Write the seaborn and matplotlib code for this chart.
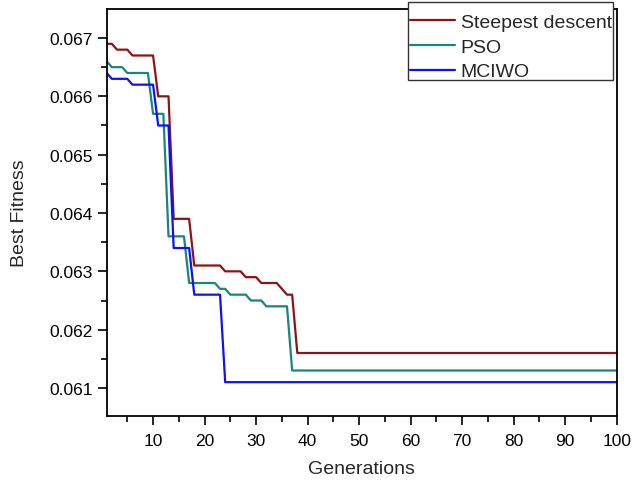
import numpy as np
import pandas as pd
import matplotlib
matplotlib.use("Agg")
import matplotlib.pyplot as plt
from matplotlib.patches import Rectangle
from matplotlib.ticker import FixedLocator, FormatStrFormatter
import seaborn as sns

# ---- data (breakpoints) ----
sd_gen = [1, 2, 3, 5, 6, 10, 11, 13, 14, 17, 18, 23, 24, 27, 28, 30, 31, 34, 35, 36, 37, 38, 100]
sd_val = [0.0669, 0.0669, 0.0668, 0.0668, 0.0667, 0.0667, 0.0660, 0.0660, 0.0639, 0.0639,
          0.0631, 0.0631, 0.0630, 0.0630, 0.0629, 0.0629, 0.0628, 0.0628, 0.0627, 0.0626,
          0.0626, 0.0616, 0.0616]

pso_gen = [1, 2, 4, 5, 9, 10, 12, 13, 16, 17, 22, 23, 24, 25, 28, 29, 31, 32, 36, 37, 100]
pso_val = [0.0666, 0.0665, 0.0665, 0.0664, 0.0664, 0.0657, 0.0657, 0.0636, 0.0636, 0.0628,
           0.0628, 0.0627, 0.0627, 0.0626, 0.0626, 0.0625, 0.0625, 0.0624, 0.0624, 0.0613, 0.0613]

mciwo_gen = [1, 2, 5, 6, 10, 11, 13, 14, 17, 18, 23, 24, 100]
mciwo_val = [0.0664, 0.0663, 0.0663, 0.0662, 0.0662, 0.0655, 0.0655, 0.0634, 0.0634,
             0.0626, 0.0626, 0.0611, 0.0611]

series_names = ["Steepest descent", "PSO", "MCIWO"]
series_colors = ["#8b1414", "#16867e", "#1010f5"]

x_ticks = [10, 20, 30, 40, 50, 60, 70, 80, 90, 100]
y_ticks = [0.061, 0.062, 0.063, 0.064, 0.065, 0.066, 0.067]

frames = []
for name, g, v in zip(series_names, [sd_gen, pso_gen, mciwo_gen], [sd_val, pso_val, mciwo_val]):
    frames.append(pd.DataFrame({"Generations": g, "Best Fitness": v, "series": name}))
df = pd.concat(frames, ignore_index=True)

sns.set_style("ticks")
plt.rcParams["font.family"] = ["Liberation Sans", "DejaVu Sans"]

W, H = 632, 481
fig = plt.figure(figsize=(W / 100, H / 100), dpi=100)
ax = fig.add_axes([106.7 / W, 1 - 417.3 / H, (616.7 - 106.7) / W, (417.3 - 10) / H])

sns.lineplot(data=df, x="Generations", y="Best Fitness", hue="series",
             hue_order=series_names, palette=series_colors, sort=False,
             estimator=None, linewidth=1.6, ax=ax)

ax.set_xlim(1, 100)
ax.set_ylim(0.060515, 0.067497)

ax.xaxis.set_major_locator(FixedLocator(x_ticks))
ax.xaxis.set_minor_locator(FixedLocator([5, 15, 25, 35, 45, 55, 65, 75, 85, 95]))
ax.yaxis.set_major_locator(FixedLocator(y_ticks))
ax.yaxis.set_minor_locator(FixedLocator([0.0615, 0.0625, 0.0635, 0.0645, 0.0655, 0.0665]))
ax.yaxis.set_major_formatter(FormatStrFormatter("%.3f"))

for s in ax.spines.values():
    s.set_linewidth(1.3)
    s.set_color("black")
    s.set_visible(True)

ax.tick_params(axis="both", which="major", direction="out", length=6.5, width=1.2,
               labelsize=12.5, colors="black")
ax.tick_params(axis="both", which="minor", direction="out", length=4, width=1.2, colors="black")
ax.tick_params(axis="x", which="major", pad=5.5)
ax.tick_params(axis="y", which="major", pad=3.5)
ax.tick_params(top=False, right=False, which="both")

ax.set_xlabel("Generations", fontsize=14, labelpad=9)
ax.set_ylabel("Best Fitness", fontsize=14, labelpad=15)

# legend: white box in figure pixels, entries placed over it
handles, labels = ax.get_legend_handles_labels()
ax.get_legend().remove()
box = Rectangle((408 / W, 1 - 81 / H), 205 / W, 78 / H, transform=fig.transFigure,
                facecolor="white", edgecolor="#333333", linewidth=1.0, zorder=4)
fig.add_artist(box)
leg = fig.legend(handles, labels, loc="upper left", bbox_to_anchor=(410 / W, 1 - 14.5 / H),
                 fontsize=14, frameon=False, borderpad=0, borderaxespad=0,
                 handlelength=2.32, handletextpad=0.29, labelspacing=0.36)
leg.set_zorder(5)
for line in leg.get_lines():
    line.set_linewidth(1.6)

fig.savefig("out.png", dpi=100)
